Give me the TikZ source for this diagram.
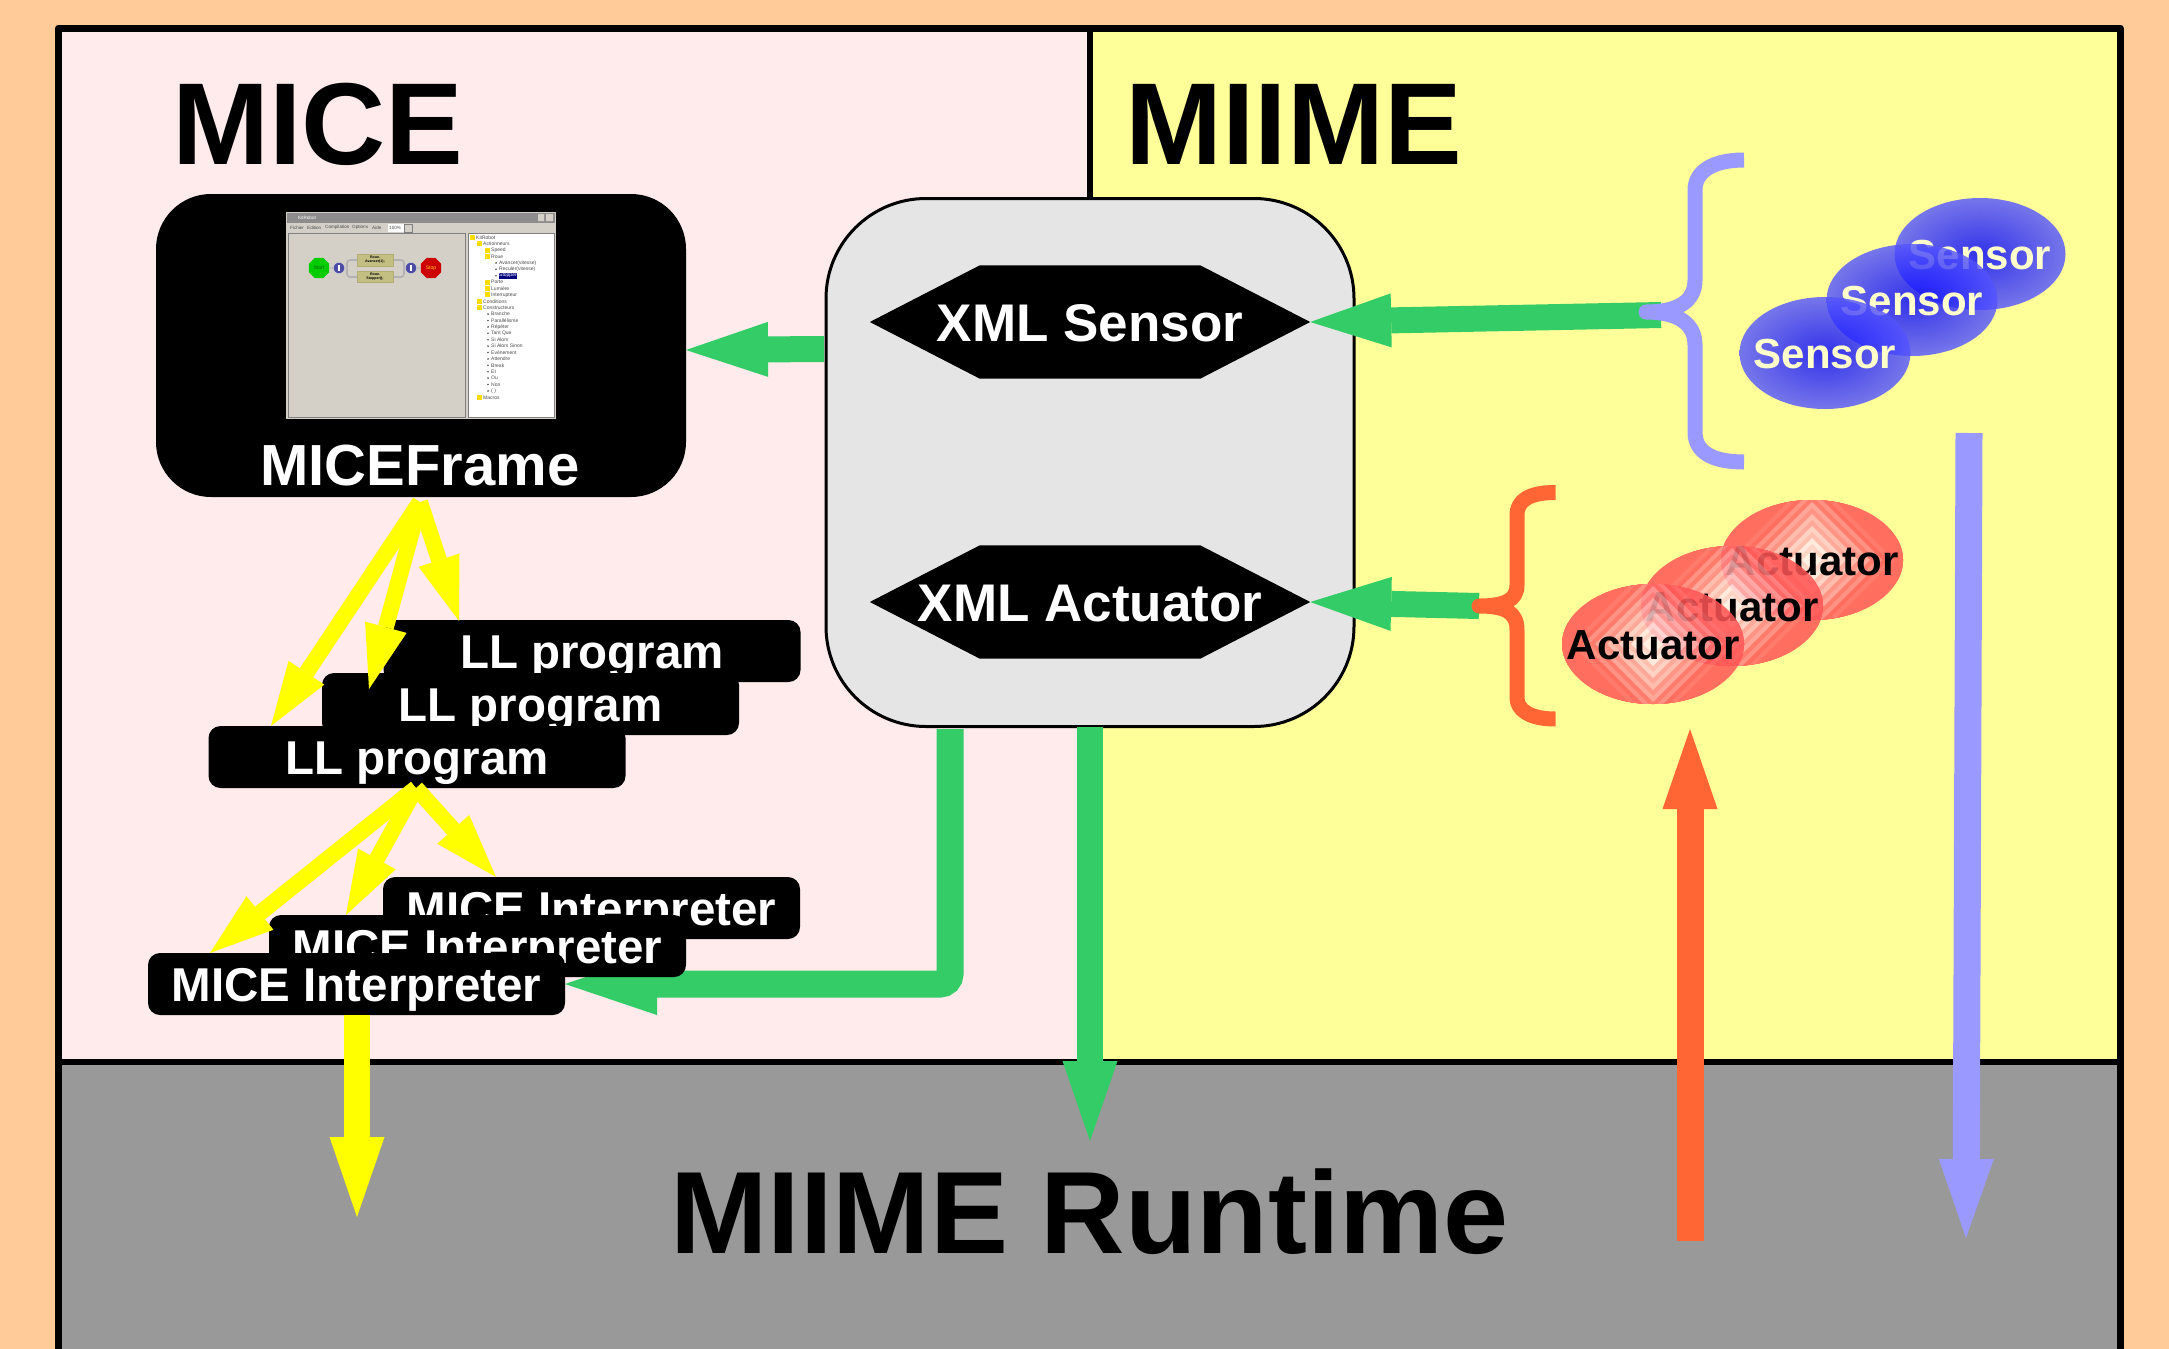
\documentclass[tikz,border=0pt]{standalone}
\usepackage{fontspec}
\setmainfont{Liberation Sans}
\usetikzlibrary{arrows.meta,calc,shapes.geometric}
\definecolor{pageorange}{HTML}{FFCC99}
\definecolor{micepink}{HTML}{FFEBEB}
\definecolor{miimeyellow}{HTML}{FFFF99}
\definecolor{runtimegray}{HTML}{999999}
\definecolor{hubgray}{HTML}{E5E5E5}
\definecolor{arrowgreen}{HTML}{33CC66}
\definecolor{lavender}{HTML}{9999FF}
\definecolor{brightorange}{HTML}{FF6633}
\definecolor{pureyellow}{rgb}{1,1,0}
\definecolor{sensin}{HTML}{0000FF}
\definecolor{sensout}{HTML}{A8A8FF}
\definecolor{palecream}{HTML}{FFFFCC}
\definecolor{actout}{HTML}{FF5555}
\definecolor{actin}{HTML}{FFF0F0}
\definecolor{winGray}{HTML}{D4D0C8}
\pgfdeclareradialshading{sensshade}{\pgfpoint{0bp}{0bp}}{color(0bp)=(sensin); color(50bp)=(sensout); color(100bp)=(sensout)}
\tikzset{
  title/.style={font=\bfseries\fontsize{116.5}{116.5}\selectfont,text=black,inner sep=0pt,anchor=base west},
  hexbox/.style={minimum width=440pt,minimum height=113pt,inner sep=0pt,text=white,font=\bfseries\fontsize{53}{53}\selectfont,text height=38pt,text depth=0pt},
  progbox/.style={fill=black,rounded corners=12pt,minimum width=417pt,minimum height=62pt,inner sep=0pt,text=white,font=\bfseries\fontsize{47.5}{47.5}\selectfont,text height=34pt,text depth=0pt},
  hub/.style={fill=hubgray,draw=black,line width=3pt,rounded corners=100pt,minimum width=528pt,minimum height=528pt,inner sep=0pt},
  greenthick/.style={draw=arrowgreen,line width=26pt,-{Triangle[length=81pt,width=54pt,line width=0pt]}},
  yellowthin/.style={draw=pureyellow,line width=16pt,-{Triangle[length=64pt,width=43pt,line width=0pt]}},
  yellowfat/.style={draw=pureyellow,line width=26pt,-{Triangle[length=80pt,width=55pt,line width=0pt]}},
  orangefat/.style={draw=brightorange,line width=27pt,-{Triangle[length=80pt,width=55pt,line width=0pt]}},
  lavfat/.style={draw=lavender,line width=27pt,-{Triangle[length=79pt,width=55pt,line width=0pt]}},
  bracestroke/.style={line width=15pt,line cap=butt,line join=round},
  sensell/.style={ellipse,minimum width=171pt,minimum height=112pt,inner sep=0pt,shading=sensshade,shade},
  senstext/.style={font=\bfseries\fontsize{42}{42}\selectfont,text=palecream,inner sep=0pt,text height=30pt,text depth=0pt},
  acttext/.style={font=\bfseries\fontsize{42}{42}\selectfont,text=black,inner sep=0pt,text height=30pt,text depth=0pt},
  treetxt/.style={font=\fontsize{5}{5}\selectfont,text=black!70,inner sep=0pt,anchor=west},
  tinytxt/.style={font=\fontsize{4.6}{5}\selectfont,text=black!70,inner sep=0pt,anchor=west},
}
\newcommand{\sensorblob}[3]{%
  \begin{scope}[transparency group,opacity=.8]
    \node[sensell] (#3e) at (#1,#2) {};
  \end{scope}
  \node[senstext] (#3) at (#1,#2) {Sensor};
}
\newcommand{\actblob}[3]{%
  \begin{scope}[transparency group,opacity=.85]
    \clip (#1,#2) ellipse [x radius=91,y radius=60];
    \foreach \d in {112,106,...,4}{
      \pgfmathtruncatemacro\p{max(0,min(100,\d*1.4-24*mod(\d+8,12)/6))}
      \fill[actout!\p!actin] (#1-\d,#2)--(#1,#2-\d)--(#1+\d,#2)--(#1,#2+\d)--cycle;
    }
  \end{scope}
  \node[acttext] (#3) at (#1,#2) {Actuator};
}
\begin{document}
\begin{tikzpicture}[x=1pt,y=-1pt]
\useasboundingbox (0,0) rectangle (2169,1349);
% backgrounds
\fill[pageorange] (0,0) rectangle (2169,1349);
\fill[micepink] (58,28) rectangle (1090,1062);
\fill[miimeyellow] (1090,28) rectangle (2120,1062);
\fill[runtimegray] (58,1062) rectangle (2120,1349);
\draw[line width=7pt,line join=round] (58.5,1349) -- (58.5,28) -- (2120,28) -- (2120,1349);
\draw[line width=6pt] (58,1062) -- (2120,1062);
\draw[line width=6pt] (1090,28) -- (1090,200);
% titles
\node[title] (miceTitle) at (172,164) {MICE};
\node[title] (miimeTitle) at (1125,164) {MIIME};
\node[title,font=\bfseries\fontsize{117}{117}\selectfont] (runtimeTitle) at (670,1253) {MIIME Runtime};
% MICEFrame
\node[fill=black,rounded corners=55pt,minimum width=530pt,minimum height=303pt,inner sep=0pt] (frame) at (421,345.5) {};
\node[text=white,font=\bfseries\fontsize{58}{58}\selectfont,inner sep=0pt,text height=42pt,text depth=0pt] (frameLabel) at (420,464) {MICEFrame};
% screenshot
\fill[winGray] (286,212) rectangle (556,419);
\fill[black!45] (287,213) rectangle (555,223);
\node[tinytxt,text=white] (winTitle) at (298,218) {KitRobot};
\fill[winGray] (538,214) rectangle (544,221) (546,214) rectangle (553,221);
\foreach \mx/\mt in {290/Fichier,307/Edition,325/Compilation,352/Options,372/Aide}
  \node[tinytxt] at (\mx,227.5) {\mt};
\fill[white] (388,223.5) rectangle (404,232);
\node[tinytxt] at (389,227.5) {100\%};
\fill[winGray,draw=black!50,line width=.5pt] (404,224) rectangle (412,232);
\draw[black!50,line width=.8pt] (288,233) rectangle (465,417);
\fill[white] (468,233) rectangle (554,417);
\draw[black!50,line width=.8pt] (468,233) rectangle (554,417);
\draw[black!30,line width=1.6pt,rounded corners=3pt] (347,260) rectangle (404,277);
\fill[black!25] (330,267) rectangle (347,269) (404,267) rectangle (420,269);
\fill[yellow!55!black!60!white,draw=yellow!50!black!70,line width=.3pt] (357,254) rectangle (393,266) (357,271) rectangle (393,282);
\node[font=\bfseries\fontsize{3.6}{4}\selectfont,align=center,inner sep=0pt] (boxA) at (375,260) {Roue.\\Avancer(1);};
\node[font=\bfseries\fontsize{3.6}{4}\selectfont,align=center,inner sep=0pt] (boxB) at (375,276.5) {Roue.\\Stopper();};
\node[regular polygon,regular polygon sides=8,fill=green!80!black,minimum size=22pt,inner sep=0pt,font=\fontsize{5}{5}\selectfont,text=green!40!black] (startOct) at (319,268) {Start};
\node[regular polygon,regular polygon sides=8,fill=red!80!black,minimum size=22pt,inner sep=0pt,font=\fontsize{5}{5}\selectfont,text=yellow!70!orange] (stopOct) at (431,268) {Stop};
\foreach \cx in {339,411}{
  \fill[blue!50!black!70!white,draw=black!20,line width=.8pt] (\cx,268) circle [radius=5.8];
  \fill[white] (\cx-1.2,264.5) rectangle (\cx+1.2,271);
}
\foreach \tx/\tt/\ic [count=\i] in {
  476/KitRobot/1,483/Actionneurs/1,491/Speed/1,491/Roue/1,499/Avancer(vitesse)/0,499/Reculer(vitesse)/0,
  499/Stopper()/2,491/Porte/1,491/Lumière/1,491/Interrupteur/1,483/Conditions/1,483/Constructeurs/1,
  491/Branche/0,491/Parallélisme/0,491/Répéter/0,491/Tant Que/0,491/Si Alors/0,491/Si Alors Sinon/0,
  491/Evénement/0,491/Attendre/0,491/Break/0,491/Et/0,491/Ou/0,491/Non/0,491/( )/0,483/Macros/1}{
  \pgfmathsetmacro\ty{237.3+(\i-1)*6.4}
  \ifnum\ic=1
    \fill[yellow!80!orange] (\tx-6.5,\ty-2.5) rectangle (\tx-1.5,\ty+2.5);
  \else
    \fill[black!70] (\tx-3,\ty) circle [radius=.9];
  \fi
  \ifnum\ic=2
    \fill[blue!50!black] (\tx-.5,\ty-2.8) rectangle (\tx+18,\ty+2.8);
    \node[treetxt,text=white] at (\tx,\ty) {\tt};
  \else
    \node[treetxt] at (\tx,\ty) {\tt};
  \fi
}
% hub
\node[hub] (hubBox) at (1090,462.5) {};
\node[hexbox] (xmlSensor) at (1090,322) {XML Sensor};
\fill[black] (xmlSensor.west) -- ([xshift=110pt]xmlSensor.north west) -- ([xshift=-110pt]xmlSensor.north east) -- (xmlSensor.east) -- ([xshift=-110pt]xmlSensor.south east) -- ([xshift=110pt]xmlSensor.south west) -- cycle;
\node[hexbox] at (xmlSensor) {XML Sensor};
\node[hexbox] (xmlActuator) at (1090,602) {XML Actuator};
\fill[black] (xmlActuator.west) -- ([xshift=110pt]xmlActuator.north west) -- ([xshift=-110pt]xmlActuator.north east) -- (xmlActuator.east) -- ([xshift=-110pt]xmlActuator.south east) -- ([xshift=110pt]xmlActuator.south west) -- cycle;
\node[hexbox] at (xmlActuator) {XML Actuator};
% coordinates for free ends
\coordinate (sensBraceTip) at (1661,315);
\coordinate (actBraceTip) at (1479,606);
\coordinate (hubToFrame) at (824,349);
\coordinate (frameIn) at (686,350);
\coordinate (hubLow) at (950,729);
\coordinate (hubMid) at (1090,727);
\coordinate (runMid) at (1090,1141);
% connectors and program boxes (back to front)
\draw[greenthick] (sensBraceTip) -- (xmlSensor.east);
\draw[greenthick] (actBraceTip) -- (xmlActuator.east);
\draw[greenthick,-{Triangle[length=82pt,width=55pt,line width=0pt]}] (hubToFrame) -- (frameIn);
\draw[greenthick,-{Triangle[length=80pt,width=55pt,line width=0pt]}] (hubMid) -- (runMid);
\node[progbox] (ll3) at (592,651) {LL program};
\node[progbox] (ll2) at (530.5,704) {LL program};
\node[progbox] (ll1) at (417,757) {LL program};
\coordinate (llTop) at (420,502);
\coordinate (llTipA) at (271,726);
\coordinate (llTipB) at (369,689);
\coordinate (llTipC) at (459,621);
\draw[yellowthin] (llTop) -- (llTipA);
\draw[yellowthin] (llTop) -- (llTipB);
\draw[yellowthin] (llTop) -- (llTipC);
\coordinate (miTop) at (416,788);
\coordinate (miTipA) at (210,953);
\coordinate (miTipB) at (346,915);
\coordinate (miTipC) at (496,877);
\coordinate (hubLowEnd) at (565,984);
\draw[draw=arrowgreen,line width=27pt,rounded corners=10pt,-{Triangle[length=92pt,width=62pt,line width=0pt]}] (hubLow) |- (hubLowEnd);
\node[progbox] (mi3) at (591.5,908) {MICE Interpreter};
\node[progbox] (mi2) at (477.5,946) {MICE Interpreter};
\node[progbox] (mi1) at (356.5,984) {MICE Interpreter};
\draw[yellowthin] (miTop) -- (miTipA);
\draw[yellowthin] (miTop) -- (miTipB);
\draw[yellowthin] (miTop) -- (miTipC);
\coordinate (yellowEnd) at (357,1217);
\draw[yellowfat] (357,1015) -- (yellowEnd);
% braces
\draw[lavender,bracestroke] (1744,160) .. controls (1712,160) and (1695,172) .. (1695,190) -- (1695,280) .. controls (1695,300) and (1680,312) .. (1646,312) .. controls (1680,312) and (1695,325) .. (1695,345) -- (1695,432) .. controls (1695,452) and (1712,462) .. (1744,462);
\draw[brightorange,bracestroke,line cap=round] (1555,492.5) .. controls (1530,492.5) and (1517,500) .. (1517,515) -- (1517,585) .. controls (1517,600) and (1505,606) .. (1479,606) .. controls (1505,606) and (1517,612) .. (1517,630) -- (1517,698) .. controls (1517,710) and (1530,719) .. (1555,719);
\fill[miimeyellow] (1555.5,480) rectangle (1570,505) (1555.5,705) rectangle (1570,730);
% sensors and actuators
\sensorblob{1980}{254}{sensorC}
\sensorblob{1912}{300}{sensorB}
\sensorblob{1825}{353}{sensorA}
\actblob{1812}{560}{actC}
\actblob{1732}{606}{actB}
\actblob{1653}{644}{actA}
% vertical arrows right
\coordinate (orangeLow) at (1690,1241);
\coordinate (orangeHigh) at (1690,729);
\coordinate (lavHigh) at (1969,433);
\coordinate (lavLow) at (1966,1238);
\draw[orangefat] (orangeLow) -- (orangeHigh);
\draw[lavfat] (lavHigh) -- (lavLow);
\end{tikzpicture}
\end{document}
